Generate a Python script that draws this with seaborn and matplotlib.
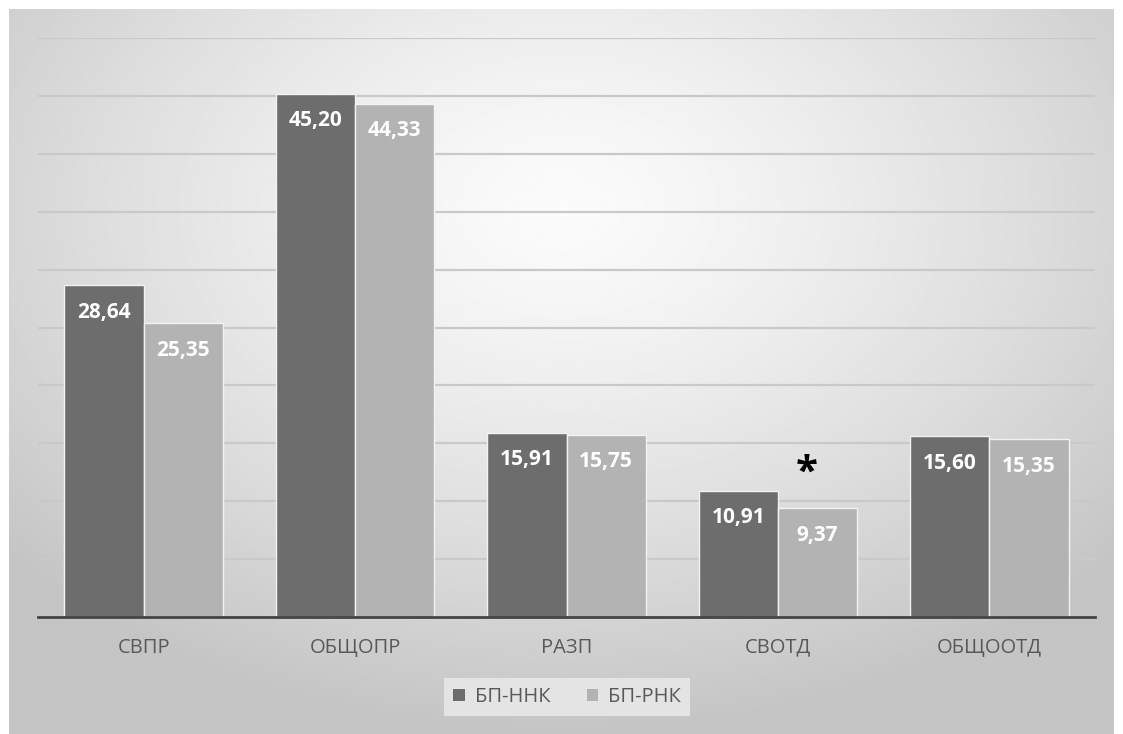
import numpy as np
import pandas as pd
import matplotlib
matplotlib.use("Agg")
import matplotlib.pyplot as plt
import seaborn as sns
from matplotlib.patches import Rectangle

categories = ["СВПР", "ОБЩОПР", "РАЗП", "СВОТД", "ОБЩООТД"]
series_names = ["БП-ННК", "БП-РНК"]
values_nnk = [28.64, 45.20, 15.91, 10.91, 15.60]
values_rnk = [25.35, 44.33, 15.75, 9.37, 15.35]
marked_category = "СВОТД"

df = pd.DataFrame({
    "cat": categories * 2,
    "group": [series_names[0]] * len(categories) + [series_names[1]] * len(categories),
    "val": values_nnk + values_rnk,
})

sns.set_theme(style="white")
plt.rcParams["font.family"] = ["Open Sans", "DejaVu Sans"]

W, H = 1123, 734
fig = plt.figure(figsize=(W / 100, H / 100), dpi=100)
fig.patch.set_facecolor("white")

# radial grey background panel
bg = fig.add_axes([9 / W, 0, (1114 - 9) / W, (H - 9) / H])
yy, xx = np.mgrid[0:400, 0:600]
cx, cy = 300, 110
r = np.sqrt(((xx - cx) / 600) ** 2 + ((yy - cy) / 430) ** 2)
shade = np.clip(0.985 - 0.36 * r ** 1.3, 0.77, 1.0)
bg.imshow(shade, cmap="gray", vmin=0, vmax=1, aspect="auto", interpolation="bilinear")
bg.set_axis_off()
bg.set_zorder(0)

ax = fig.add_axes([38 / W, (H - 617) / H, (1095 - 38) / W, (617 - 38) / H])
ax.set_zorder(1)
ax.patch.set_alpha(0)

palette = {series_names[0]: "#6d6d6d", series_names[1]: "#b3b3b3"}
sns.barplot(data=df, x="cat", y="val", hue="group", palette=palette,
            width=0.75, gap=0, edgecolor="#f2f2f2", linewidth=1.0,
            saturation=1, legend=False, ax=ax, zorder=3)

ax.set_ylim(0, 50)
ax.set_xlim(-0.5, len(categories) - 0.5)
ax.set_yticks(np.arange(5, 51, 5))
ax.yaxis.grid(True, color="#c9c9c9", linewidth=1.6, zorder=0)
ax.set_axisbelow(True)
ax.tick_params(axis="y", left=False, labelleft=False)
ax.tick_params(axis="x", bottom=False, pad=9, labelsize=14.5, labelcolor="#595959")
ax.set_xlabel("")
ax.set_ylabel("")
for s in ["top", "right", "left"]:
    ax.spines[s].set_visible(False)
ax.spines["bottom"].set_color("#444444")
ax.spines["bottom"].set_linewidth(2)
ax.spines["bottom"].set_zorder(5)

# value labels inside bars, near their tops
for cont in ax.containers:
    for bar in cont:
        h = bar.get_height()
        xc = bar.get_x() + bar.get_width() / 2
        ax.annotate(f"{h:.2f}".replace(".", ","), (xc, h), xytext=(0, -27),
                    textcoords="offset pixels", ha="center", va="center",
                    color="white", fontsize=15, fontweight="bold", zorder=6)

# significance mark
mi = categories.index(marked_category)
light_bar = ax.containers[1][mi]
ax.annotate("*", (light_bar.get_x() + light_bar.get_width() / 2, light_bar.get_height()),
            xytext=(-11, 35), textcoords="offset pixels", ha="center", va="center",
            fontsize=29, fontweight="bold", color="black", zorder=6)

# legend
handles = [Rectangle((0, 0), 1, 1, facecolor=palette[n], edgecolor="none") for n in series_names]
leg = fig.legend(handles, series_names, loc="center", bbox_to_anchor=(567 / W, 1 - 697 / H),
                 ncol=2, frameon=True, fontsize=14.5, handlelength=0.55, handleheight=0.55,
                 handletextpad=0.5, columnspacing=1.8, borderpad=0.45)
leg.get_frame().set_facecolor("#e4e4e4")
leg.get_frame().set_edgecolor("none")
leg.get_frame().set_alpha(1)
leg.get_frame().set_boxstyle("square", pad=0)
for t in leg.get_texts():
    t.set_color("#595959")

fig.savefig("out.png", dpi=100)
